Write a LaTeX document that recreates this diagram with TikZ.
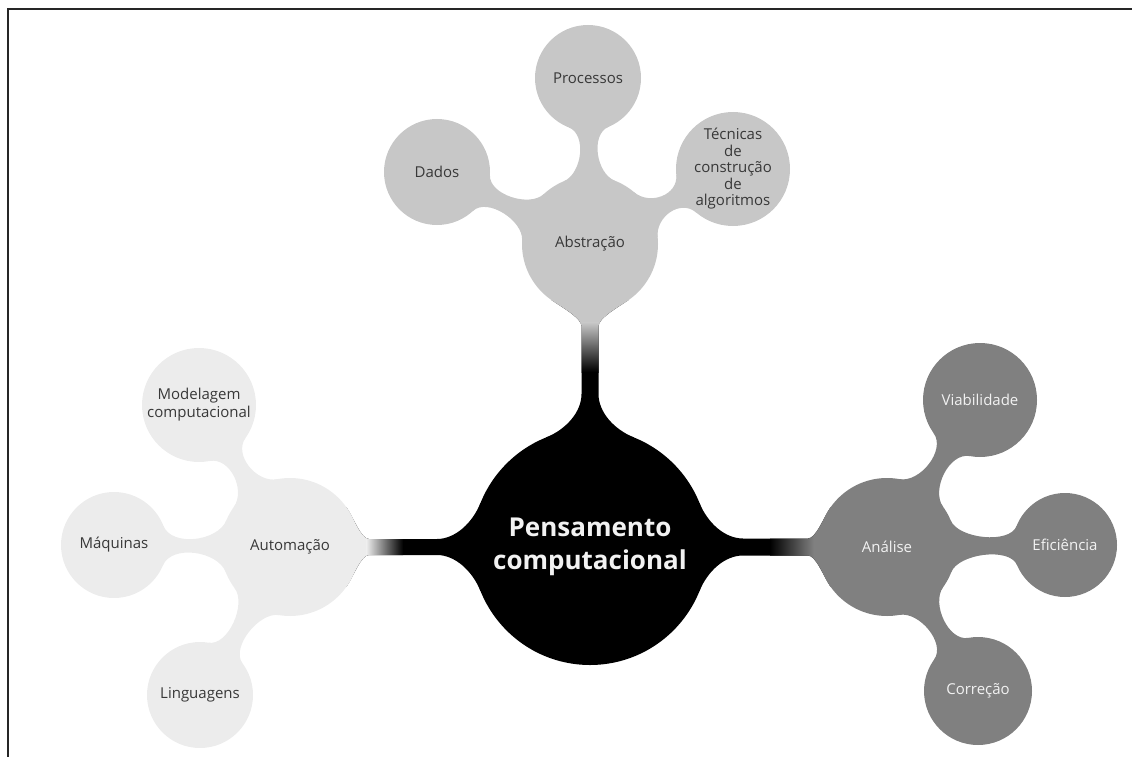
\documentclass[tikz,border=0pt]{standalone}
\usepackage{fontspec}
\setmainfont{Open Sans}
\usetikzlibrary{calc}
\pgfdeclarelayer{back}
\pgfsetlayers{back,main}

\definecolor{abscol}{gray}{0.78}
\definecolor{autcol}{gray}{0.925}
\definecolor{anacol}{gray}{0.5}
\definecolor{darktext}{gray}{0.22}
\definecolor{lighttext}{gray}{0.95}

% short organic neck joining a parent bubble to a child bubble
% #1 colour, #2 parent, #3 child, #4 parent radius, #5 child radius,
% #6 parent angle, #7 child angle, #8 control length
\newcommand{\neck}[8]{%
  \coordinate (q1) at ($(#2.center)!#4!#6:(#3.center)$);
  \coordinate (q2) at ($(#3.center)!#5!-#7:(#2.center)$);
  \coordinate (q3) at ($(#3.center)!#5!#7:(#2.center)$);
  \coordinate (q4) at ($(#2.center)!#4!-#6:(#3.center)$);
  \coordinate (c1) at ($(q1)!#8!90:(#2.center)$);
  \coordinate (c2) at ($(q2)!#8!-90:(#3.center)$);
  \coordinate (c3) at ($(q3)!#8!90:(#3.center)$);
  \coordinate (c4) at ($(q4)!#8!-90:(#2.center)$);
  \fill[#1] (q1) .. controls (c1) and (c2) .. (q2) -- (#3.center) -- (q3)
    .. controls (c3) and (c4) .. (q4) -- (#2.center) -- cycle;
}

% long stem from a branch bubble to the central bubble: points
% #1 prefix, #2 branch, #3 centre, #4 branch radius, #5 centre radius,
% #6 stem start from branch, #7 stem start from centre, #8 half width
\newcommand{\stemset}[8]{%
  \coordinate (#1f1) at ($(#2.center)!#4!35:(#3.center)$);
  \coordinate (#1f2) at ($(#2.center)!#4!-35:(#3.center)$);
  \coordinate (#1g1) at ($(#3.center)!#5!-22:(#2.center)$);
  \coordinate (#1g2) at ($(#3.center)!#5!22:(#2.center)$);
  \coordinate (#1s1) at ($(#2.center)!#6!(#3.center)!#8!90:(#3.center)$);
  \coordinate (#1s2) at ($(#2.center)!#6!(#3.center)!#8!-90:(#3.center)$);
  \coordinate (#1t1) at ($(#3.center)!#7!(#2.center)!#8!-90:(#2.center)$);
  \coordinate (#1t2) at ($(#3.center)!#7!(#2.center)!#8!90:(#2.center)$);
  \coordinate (#1e1) at ($(#2.center)!#8!90:(#3.center)$);
  \coordinate (#1e2) at ($(#2.center)!#8!-90:(#3.center)$);
  \coordinate (#1h1) at ($(#3.center)!#8!-90:(#2.center)$);
  \coordinate (#1h2) at ($(#3.center)!#8!90:(#2.center)$);
  \coordinate (#1f1c) at ($(#1f1)!12pt!90:(#2.center)$);
  \coordinate (#1f2c) at ($(#1f2)!12pt!-90:(#2.center)$);
  \coordinate (#1s1c) at ($(#1s1)!8pt!(#1e1)$);
  \coordinate (#1s2c) at ($(#1s2)!8pt!(#1e2)$);
  \coordinate (#1t1c) at ($(#1t1)!18pt!(#1h1)$);
  \coordinate (#1t2c) at ($(#1t2)!18pt!(#1h2)$);
  \coordinate (#1g1c) at ($(#1g1)!22pt!-90:(#3.center)$);
  \coordinate (#1g2c) at ($(#1g2)!22pt!90:(#3.center)$);
}
% #1 prefix, #2 branch, #3 centre
\newcommand{\stemp}[3]{%
  (#1f1) .. controls (#1f1c) and (#1s1c) .. (#1s1) -- (#1t1)
  .. controls (#1t1c) and (#1g1c) .. (#1g1) -- (#3.center) -- (#1g2)
  .. controls (#1g2c) and (#1t2c) .. (#1t2) -- (#1s2)
  .. controls (#1s2c) and (#1f2c) .. (#1f2) -- (#2.center) -- cycle
}

\tikzset{
  bubble/.style={circle, inner sep=0pt, align=center,
    font=\fontsize{15}{18}\selectfont},
  absb/.style={bubble, fill=abscol, text=darktext},
  autb/.style={bubble, fill=autcol, text=darktext},
  anab/.style={bubble, fill=anacol, text=lighttext},
  coreb/.style={circle, inner sep=0pt, align=center, fill=black,
    text=lighttext, font=\fontsize{26}{33}\selectfont\bfseries},
  frameline/.style={line width=2.4pt, draw=black!85}
}

\begin{document}
\begin{tikzpicture}[x=1pt,y=-1pt]
\useasboundingbox (0,0) rectangle (1132,757);

% frame
\draw[frameline] (8,757) -- (8,9) -- (1132,9);

% central bubble
\node[coreb, minimum size=236pt] (core) at (590,547) {Pensamento\\computacional};

% Abstração branch
\node[absb, minimum size=136pt] (abs) at (590,244) {Abstração};
\node[absb, minimum size=106pt] (proc) at (588,78) {Processos};
\node[absb, minimum size=106pt] (dados) at (437,172) {Dados};
\node[absb, minimum size=114pt, font=\fontsize{15}{16.5}\selectfont] (tec) at (733,169)
  {Técnicas\\de\\construção\\de\\algoritmos};

% Automação branch
\node[autb, minimum size=138pt] (aut) at (290,547) {Automação};
\node[autb, minimum size=114pt] (mod) at (199,405) {Modelagem\\computacional};
\node[autb, minimum size=106pt] (maq) at (114,545) {Máquinas};
\node[autb, minimum size=106pt] (lin) at (200,695) {Linguagens};

% Análise branch
\node[anab, minimum size=138pt] (ana) at (887,547) {Análise};
\node[anab, minimum size=114pt] (via) at (980,400) {Viabilidade};
\node[anab, minimum size=104pt] (efi) at (1065,545) {Eficiência};
\node[anab, minimum size=108pt] (cor) at (978,691) {Correção};

\begin{pgfonlayer}{back}
  % necks between bubbles
  \neck{abscol}{abs}{proc}{68pt}{53pt}{22}{22}{19.7pt}
  \neck{abscol}{abs}{dados}{68pt}{53pt}{22}{22}{19.7pt}
  \neck{abscol}{abs}{tec}{68pt}{57pt}{22}{22}{20.7pt}
  \neck{autcol}{aut}{mod}{69pt}{57pt}{22}{22}{21pt}
  \neck{autcol}{aut}{maq}{69pt}{53pt}{22}{22}{22.8pt}
  \neck{autcol}{aut}{lin}{69pt}{53pt}{22}{22}{19.9pt}
  \neck{anacol}{ana}{via}{69pt}{57pt}{22}{22}{21pt}
  \neck{anacol}{ana}{efi}{69pt}{52pt}{22}{22}{19.7pt}
  \neck{anacol}{ana}{cor}{69pt}{54pt}{22}{22}{20.2pt}

  % stems to the central bubble, fading from the branch colour to black
  \stemset{sa}{abs}{core}{68pt}{118pt}{82pt}{153pt}{8.5pt}
  \fill[black] \stemp{sa}{abs}{core};
  \begin{scope}
    \clip \stemp{sa}{abs}{core};
    \fill[abscol] (500,150) rectangle (680,323);
    \shade[top color=abscol, bottom color=black] (500,322.5) rectangle (680,372);
  \end{scope}

  \stemset{su}{aut}{core}{69pt}{118pt}{79pt}{153pt}{8pt}
  \fill[black] \stemp{su}{aut}{core};
  \begin{scope}
    \clip \stemp{su}{aut}{core};
    \fill[autcol] (200,450) rectangle (367,650);
    \shade[left color=autcol, right color=black] (366.5,450) rectangle (403,650);
  \end{scope}

  \stemset{sn}{ana}{core}{69pt}{118pt}{79pt}{153pt}{8.5pt}
  \fill[black] \stemp{sn}{ana}{core};
  \begin{scope}
    \clip \stemp{sn}{ana}{core};
    \fill[anacol] (813,450) rectangle (960,650);
    \shade[left color=black, right color=anacol] (770,450) rectangle (813.5,650);
  \end{scope}
\end{pgfonlayer}
\end{tikzpicture}
\end{document}
